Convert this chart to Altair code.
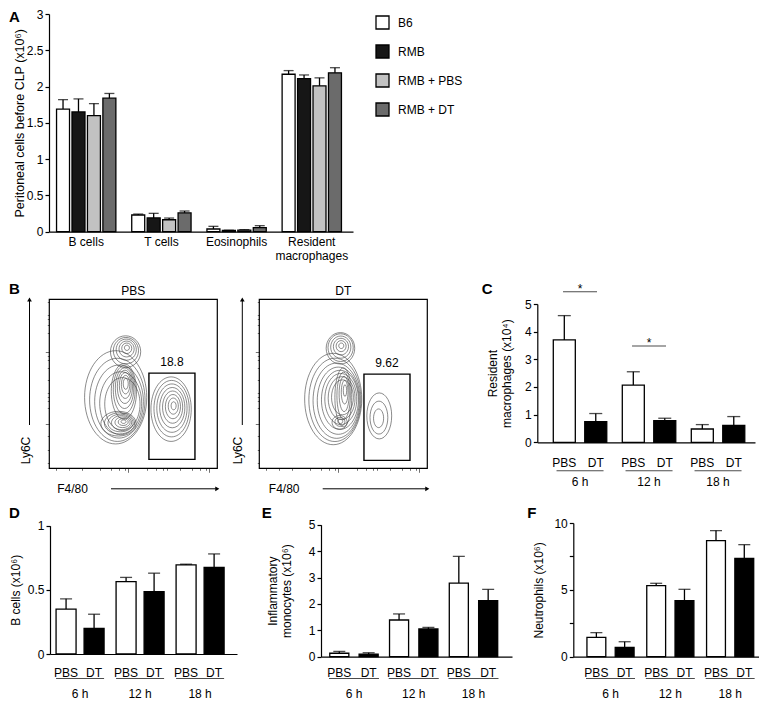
import altair as alt
import pandas as pd

# ================= DATA =================
# Panel A : peritoneal cells before CLP (x10^6)
a_cells = ["B cells", "T cells", "Eosinophils", "Resident macrophages"]
a_groups = ["B6", "RMB", "RMB + PBS", "RMB + DT"]
a_b6 = [1.69, 0.23, 0.037, 2.17]
a_b6_up = [1.82, 0.243, 0.074, 2.22]
a_rmb = [1.65, 0.19, 0.018, 2.11]
a_rmb_up = [1.83, 0.253, 0.020, 2.16]
a_pbs = [1.60, 0.165, 0.023, 2.01]
a_pbs_up = [1.765, 0.188, 0.028, 2.12]
a_dt = [1.84, 0.26, 0.055, 2.19]
a_dt_up = [1.905, 0.285, 0.083, 2.26]
a_colors = ["#ffffff", "#161616", "#c2c2c2", "#6b6b6b"]

# time-course panels
times = ["6 h", "12 h", "18 h"]
treats = ["PBS", "DT"]
# C : resident macrophages (x10^4)
c_pbs, c_pbs_up = [3.70, 2.07, 0.48], [4.58, 2.55, 0.64]
c_dt, c_dt_up = [0.75, 0.78, 0.61], [1.04, 0.87, 0.93]
c_sig_times, c_sig_y = ["6 h", "12 h"], [5.44, 3.48]
# D : B cells (x10^6)
d_pbs, d_pbs_up = [0.35, 0.564, 0.694], [0.43, 0.597, 0.70]
d_dt, d_dt_up = [0.20, 0.486, 0.675], [0.31, 0.63, 0.78]
# E : inflammatory monocytes (x10^6)
e_pbs, e_pbs_up = [0.13, 1.39, 2.79], [0.20, 1.62, 3.80]
e_dt, e_dt_up = [0.10, 1.05, 2.12], [0.15, 1.11, 2.55]
# F : neutrophils (x10^6)
f_pbs, f_pbs_up = [1.45, 5.31, 8.68], [1.80, 5.49, 9.43]
f_dt, f_dt_up = [0.70, 4.19, 7.36], [1.12, 5.04, 8.38]

# Panel B : flow cytometry contour rings (axis units 0-100), one list per population
pbs_pops = ["top", "upper", "lower", "body", "gate"]
pbs_aspect = [1.05, 2.2, 0.7, 1.5, 1.6]
pbs_r = [[1.5, 3, 4.5, 6, 7.5, 9],
         [1.5, 2.5, 3.5, 4.5, 5.5, 6.5, 7.5],
         [1.5, 3, 4.5, 6, 7.5, 9, 10.5],
         [10.5, 12.5, 14.5, 16.5, 18.5],
         [1.5, 3, 4.5, 6, 7.5, 9, 10.5, 12]]
pbs_cx = [[46.2, 46.1, 46, 45.8, 45.6, 45.4],
          [45.5, 45.4, 45.2, 45, 44.8, 44.6, 44.4],
          [44.2, 44, 43.6, 43, 42.4, 41.8, 41.2],
          [43.5, 42.5, 41.5, 40.5, 39.5],
          [74, 73.8, 73.6, 73.4, 73.2, 73, 72.8, 72.5]]
pbs_cy = [[71.3, 71, 70.6, 70.2, 69.6, 69],
          [50, 49.5, 49, 48.2, 47.4, 46.5, 45.5],
          [27.6, 27.4, 27.2, 27, 26.8, 26.6, 26.4],
          [38, 38.5, 39.5, 40.5, 42],
          [37, 36.8, 36.5, 36.2, 35.9, 35.6, 35.3, 35]]
dt_pops = ["top", "core", "lower", "body", "gate"]
dt_aspect = [1.1, 3.5, 0.9, 1.6, 1.85]
dt_r = [[1.5, 3, 4.5, 6, 7.5, 8.5],
        [1, 2, 3, 4, 5],
        [1.5, 3, 4.5],
        [6.5, 8, 9.5, 11, 12.5, 14, 15.5, 17],
        [3, 5.3, 7.4]]
dt_cx = [[48.8, 48.7, 48.6, 48.5, 48.4, 48.3],
         [51, 50.8, 50.5, 50.2, 50],
         [48.2, 48, 47.8],
         [49.5, 49, 48.5, 48, 47, 46, 45, 44],
         [71, 71.2, 71.4]]
dt_cy = [[72.5, 72.3, 72, 71.7, 71.4, 71],
         [46, 45, 44, 43, 42],
         [27.8, 27.5, 27.2],
         [42, 41.5, 41, 40.5, 40, 40, 40.5, 41],
         [29.6, 30, 31]]
flow_titles = ["PBS", "DT"]
gate_x1, gate_x2 = [59.3, 62.3], [86.7, 89.7]
gate_y1, gate_y2 = [5.3, 4.7], [56.3, 55.7]
gate_pct = ["18.8", "9.62"]

# ================= LAYOUT HELPERS =================
W, H = 751, 693
FONT = "Liberation Sans"


def px(x):
    return x - 8.0


def mk_py(shift):
    return lambda y: y - 8.0 + shift


py_top = mk_py(4)     # panel A row
py_mid = mk_py(0)     # panels B, C
py_bot = mk_py(-6)    # panels D, E, F


def ellipse_path(a):
    k = 0.5523
    return (f"M 1 0 C 1 {k*a:.4f} {k:.4f} {a} 0 {a} C {-k:.4f} {a} -1 {k*a:.4f} -1 0 "
            f"C -1 {-k*a:.4f} {-k:.4f} {-a} 0 {-a} C {k:.4f} {-a} 1 {-k*a:.4f} 1 0 Z")


# ================= PANEL A =================
rows = []
for g, m, u in zip(a_groups, [a_b6, a_rmb, a_pbs, a_dt], [a_b6_up, a_rmb_up, a_pbs_up, a_dt_up]):
    for c, mv, uv in zip(a_cells, m, u):
        rows.append(dict(cell=c, group=g, mean=mv, upper=uv))
dfA = pd.DataFrame(rows)

py = py_top
xA = alt.Scale(domain=a_cells, range=[px(49), px(353)], paddingInner=0.211,
               paddingOuter=0.127, align=0.395)
yA = alt.Scale(domain=[0, 3], range=[py(227.7), py(10)], nice=False, zero=True)
oA = alt.Scale(domain=a_groups, paddingInner=0.16, paddingOuter=0)

barsA = alt.Chart(dfA).mark_bar(stroke="black", strokeWidth=1.3).encode(
    x=alt.X("cell:N", scale=xA, axis=alt.Axis(
        orient="bottom", offset=py(227.7) - H, title=None, ticks=False, labelAngle=0,
        labelPadding=5, labelLineHeight=14,
        labelExpr="datum.label == 'Resident macrophages' ? ['Resident', 'macrophages'] : datum.label")),
    xOffset=alt.XOffset("group:N", scale=oA),
    y=alt.Y("mean:Q", scale=yA, axis=alt.Axis(
        orient="left", offset=-px(49), values=[0, 0.5, 1, 1.5, 2, 2.5, 3], format="~g",
        tickSize=4, labelPadding=2, title="Peritoneal cells before CLP (x10⁶)",
        titlePadding=0, titleFontSize=12.5)),
    fill=alt.Fill("group:N", scale=alt.Scale(domain=a_groups, range=a_colors), legend=alt.Legend(
        orient="none", legendX=px(375), legendY=py(11), title=None, symbolType="square",
        symbolSize=169, symbolStrokeColor="black", symbolStrokeWidth=1.3, labelFontSize=12,
        labelOffset=8, rowPadding=10, padding=0, symbolOpacity=1)),
)
errA = alt.Chart(dfA).mark_rule(color="black", strokeWidth=1.3).encode(
    x="cell:N", xOffset="group:N", y="mean:Q", y2="upper:Q")
capA = alt.Chart(dfA).mark_tick(color="black", thickness=1.3, size=10, orient="horizontal").encode(
    x="cell:N", xOffset="group:N", y="upper:Q")
panelA = alt.layer(barsA, errA, capA)


# ================= TIME COURSE PANELS =================
def time_panel(py, pbs, pbs_up, dt, dt_up, xr, yr, ydom, yvals, pi, po, al, pi2, cap,
               title, tpad, lab_y, line_y, time_y, line_w, label_expr=None, sig=None):
    rows = []
    for t, a, b in zip(times, pbs, pbs_up):
        rows.append(dict(time=t, treat="PBS", mean=a, upper=b))
    for t, a, b in zip(times, dt, dt_up):
        rows.append(dict(time=t, treat="DT", mean=a, upper=b))
    df = pd.DataFrame(rows)
    tdf = pd.DataFrame({"time": times})
    xs = alt.Scale(domain=times, range=[px(xr[0]), px(xr[1])], paddingInner=pi,
                   paddingOuter=po, align=al)
    ys = alt.Scale(domain=ydom, range=[py(yr[0]), py(yr[1])], nice=False, zero=True)
    os_ = alt.Scale(domain=treats, paddingInner=pi2, paddingOuter=0)
    yaxis_kw = dict(orient="left", offset=-px(xr[0]), values=yvals, format="~g", tickSize=4,
                    labelPadding=2, title=title, titlePadding=tpad)
    if label_expr:
        yaxis_kw["labelExpr"] = label_expr
    bars = alt.Chart(df).mark_bar(stroke="black", strokeWidth=1.3).encode(
        x=alt.X("time:N", scale=xs, axis=alt.Axis(orient="bottom", offset=py(yr[0]) - H,
                                                   title=None, ticks=False, labels=False)),
        xOffset=alt.XOffset("treat:N", scale=os_),
        y=alt.Y("mean:Q", scale=ys, axis=alt.Axis(**yaxis_kw)),
        fill=alt.Fill("treat:N", scale=alt.Scale(domain=treats, range=["#ffffff", "#000000"]),
                      legend=None),
    )
    err = alt.Chart(df).mark_rule(color="black", strokeWidth=1.3).encode(
        x="time:N", xOffset="treat:N", y="mean:Q", y2="upper:Q")
    capm = alt.Chart(df).mark_tick(color="black", thickness=1.3, size=cap,
                                   orient="horizontal").encode(
        x="time:N", xOffset="treat:N", y="upper:Q")
    tlab = alt.Chart(df).mark_text(fontSize=12, baseline="middle").encode(
        x="time:N", xOffset="treat:N", y=alt.value(py(lab_y)), text="treat:N")
    uline = alt.Chart(tdf).mark_tick(color="black", thickness=1, size=line_w,
                                     orient="horizontal").encode(
        x="time:N", y=alt.value(py(line_y)))
    hlab = alt.Chart(tdf).mark_text(fontSize=12, baseline="middle").encode(
        x="time:N", y=alt.value(py(time_y)), text="time:N")
    layers = [bars, err, capm, tlab, uline, hlab]
    if sig is not None:
        sdf = pd.DataFrame({"time": sig[0], "y": sig[1]})
        sline = alt.Chart(sdf).mark_tick(color="black", thickness=1, size=34,
                                         orient="horizontal").encode(x="time:N", y="y:Q")
        star = alt.Chart(sdf).mark_text(text="*", fontSize=12, baseline="alphabetic", dy=1).encode(
            x="time:N", y="y:Q")
        layers += [sline, star]
    return alt.layer(*layers)


panelC = time_panel(py_mid, c_pbs, c_pbs_up, c_dt, c_dt_up, (537.3, 755), (442.3, 304), [0, 5],
                    [0, 1, 2, 3, 4, 5], 0.225, 0.19, 0.61, 0.3, 13,
                    ["Resident", "macrophages (x10⁴)"], 11, 462.5, 470.7, 482, 47,
                    sig=(c_sig_times, c_sig_y))
panelD = time_panel(py_bot, d_pbs, d_pbs_up, d_dt, d_dt_up, (50, 237), (660, 531.7), [0, 1],
                    [0, 0.5, 1], 0.2, 0.158, 0.32, 0.286, 12,
                    "B cells (x10⁶)", 5, 679, 684.5, 700, 48)
panelE = time_panel(py_bot, e_pbs, e_pbs_up, e_dt, e_dt_up, (321, 512), (662.7, 530.7), [0, 5],
                    [0, 1, 2, 3, 4, 5], 0.19, 0.193, 0.38, 0.35, 12,
                    ["Inflammatory", "monocytes (x10⁶)"], 15, 679, 684.5, 700, 50)
panelF = time_panel(py_bot, f_pbs, f_pbs_up, f_dt, f_dt_up, (573.3, 764), (662.7, 529), [0, 10],
                    [0, 2.5, 5, 7.5, 10], 0.212, 0.2, 0.57, 0.333, 12,
                    "Neutrophils  (x10⁶)", 8, 679, 684.5, 700, 49,
                    label_expr="datum.value % 5 == 0 ? datum.label : ''")

# ================= FLOW PANELS (B) =================
left_major = [26.5, 45.2, 69, 91.7]
left_ticks = [3, 7, 11, 15, 19, 22.5, 26.5, 32.1, 35.4, 37.7, 39.6, 41.1, 42.3, 43.4, 44.3,
              45.2, 52.4, 56.6, 59.5, 61.8, 63.8, 65.3, 66.7, 67.9, 69, 75.8, 79.8, 82.7,
              84.9, 86.7, 88.2, 89.5, 90.7, 91.7, 98.5]
bottom_major = [23, 47, 71, 95]
bottom_ticks = [4, 8, 12, 16, 19.5, 23, 30, 34, 37, 39.5, 41.5, 43.5, 45, 46.2, 47, 54, 58,
                61, 63.5, 65.5, 67.5, 69, 70.2, 71, 78, 82, 85, 87.5, 89.5, 91.5, 93, 94.2, 95]


def flow_panel(i, pops, aspects, rs, cxs, cys, x0, x1, y0, y1, ly_x, lab_x, ar_x0):
    """ly_x, lab_x, ar_x0 : page positions of the Ly6C arrow, F4/80 label centre, F4/80 arrow start."""
    py = py_mid
    rows = []
    for p, rr, xx, yy in zip(pops, rs, cxs, cys):
        for r, a, b in zip(rr, xx, yy):
            rows.append(dict(pop=p, cx=a, cy=b, r=r))
    cont = pd.DataFrame(rows)
    xs = alt.Scale(domain=[0, 100], range=[px(x0), px(x1)], nice=False, zero=False)
    ys = alt.Scale(domain=[0, 100], range=[py(y1), py(y0)], nice=False, zero=False)
    fw = px(x1) - px(x0)
    ss = alt.Scale(type="pow", exponent=2, domain=[0, 100], range=[0, 4 * fw * fw])
    shp = alt.Scale(domain=pops, range=[ellipse_path(a) for a in aspects])
    lm = "[" + ",".join(str(v) for v in left_major) + "]"
    bm = "[" + ",".join(str(v) for v in bottom_major) + "]"
    contours = alt.Chart(cont).mark_point(filled=False, color="#3c3c3c", strokeWidth=0.6,
                                          opacity=1).encode(
        x=alt.X("cx:Q", scale=xs, axis=alt.Axis(
            orient="bottom", offset=py(y1) - H, domain=False, labels=False,
            title="F4/80", titleX=px(lab_x), titleY=488 - y1, titleAlign="center",
            titleBaseline="middle", titleAngle=0, titleFontSize=12,
            values=bottom_ticks, tickWidth=0.7, tickColor="#333333",
            tickSize={"condition": {"test": f"indexof({bm}, datum.value) >= 0", "value": 4},
                      "value": 2})),
        y=alt.Y("cy:Q", scale=ys, axis=alt.Axis(
            orient="left", offset=-px(x0), domain=False, labels=False,
            title="Ly6C", titleX=(ly_x - 4.5) - x0, titleY=py(450), titleAlign="center",
            titleBaseline="middle", titleAngle=270, titleFontSize=12,
            values=left_ticks, tickWidth=0.7, tickColor="#333333",
            tickSize={"condition": {"test": f"indexof({lm}, datum.value) >= 0", "value": 4},
                      "value": 2})),
        size=alt.Size("r:Q", scale=ss, legend=None),
        shape=alt.Shape("pop:N", scale=shp, legend=None),
    )
    one = pd.DataFrame({"t": [flow_titles[i]]})
    frame = alt.Chart(one).mark_rect(fill="transparent", stroke="black", strokeWidth=1.2).encode(
        x=alt.datum(0), x2=alt.datum(100), y=alt.datum(0), y2=alt.datum(100))
    ttl = alt.Chart(one).mark_text(fontSize=12, baseline="middle").encode(
        x=alt.datum(50), y=alt.datum(105), text="t:N")
    gdf = pd.DataFrame({"x1": [gate_x1[i]], "x2": [gate_x2[i]], "y1": [gate_y1[i]],
                        "y2": [gate_y2[i]], "pct": [gate_pct[i]]})
    gate = alt.Chart(gdf).mark_rect(fill="transparent", stroke="black", strokeWidth=1.4).encode(
        x="x1:Q", x2="x2:Q", y="y1:Q", y2="y2:Q")
    gtxt = alt.Chart(gdf).transform_calculate(xm="(datum.x1 + datum.x2) / 2").mark_text(
        fontSize=12, baseline="middle", dy=-11).encode(x="xm:Q", y="y2:Q", text="pct:N")
    varrow = alt.Chart(one).mark_rule(color="black", strokeWidth=1).encode(
        x=alt.value(px(ly_x)), y=alt.value(py(425)), y2=alt.value(py(301)))
    vhead = alt.Chart(one).mark_point(shape="triangle-up", filled=True, color="black", size=22,
                                      opacity=1).encode(x=alt.value(px(ly_x)), y=alt.value(py(299.5)))
    harrow = alt.Chart(one).mark_rule(color="black", strokeWidth=1).encode(
        x=alt.value(px(ar_x0)), x2=alt.value(px(x1 - 1.5)), y=alt.value(py(488.8)))
    hhead = alt.Chart(one).mark_point(shape="triangle-right", filled=True, color="black", size=22,
                                      opacity=1).encode(x=alt.value(px(x1)), y=alt.value(py(488.8)))
    return alt.layer(contours, frame, ttl, gate, gtxt, varrow, vhead, harrow, hhead)


flowPBS = flow_panel(0, pbs_pops, pbs_aspect, pbs_r, pbs_cx, pbs_cy,
                     49.3, 217.3, 299.3, 468.3, 29.5, 72, 111)
flowDT = flow_panel(1, dt_pops, dt_aspect, dt_r, dt_cx, dt_cy,
                    259.3, 427.3, 299.3, 468.3, 242.3, 283.7, 322.7)

# ================= PANEL LETTERS =================
letters = []
for t, lx, ly, fpy in [("A", 3.3, 6, py_top), ("B", 3.3, 284, py_mid), ("C", 481.7, 284, py_mid),
                       ("D", 3.3, 514, py_bot), ("E", 261.7, 514, py_bot),
                       ("F", 527.3, 514, py_bot)]:
    letters.append(alt.Chart(pd.DataFrame({"t": [t]})).mark_text(
        fontSize=15, fontWeight="bold", align="left", baseline="top").encode(
        x=alt.value(max(px(lx), 1)), y=alt.value(max(fpy(ly) - 2.5, 2)), text="t:N"))

chart = alt.layer(panelA, flowPBS, flowDT, panelC, panelD, panelE, panelF, *letters).resolve_scale(
    x="independent", y="independent", xOffset="independent", fill="independent",
    size="independent", shape="independent").resolve_axis(
    x="independent", y="independent").resolve_legend(
    fill="independent", size="independent", shape="independent").properties(
    width=W, height=H, padding=0, autosize=alt.AutoSizeParams(type="none")
).configure(font=FONT).configure_view(stroke=None).configure_axis(
    grid=False, domainColor="black", domainWidth=1.2, tickColor="black", tickWidth=1.2,
    labelColor="black", titleColor="black", labelFontSize=12, titleFontSize=12,
    titleFontWeight="normal", labelFont=FONT, titleFont=FONT
).configure_legend(labelFont=FONT, labelColor="black").configure_text(
    font=FONT, color="black")

chart.save("out.html", embed_options={"renderer": "svg", "actions": False})
